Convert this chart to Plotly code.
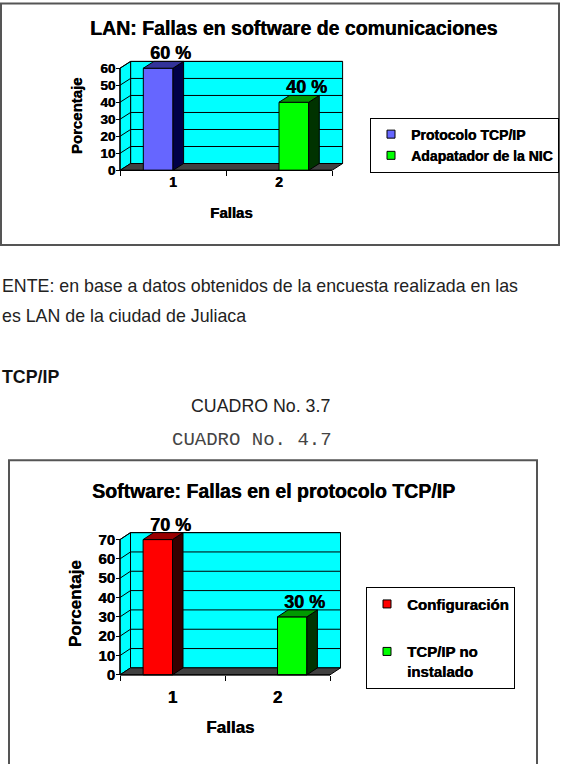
import plotly.graph_objects as go

# ---------------- data ----------------
top_title = "LAN: Fallas en software de comunicaciones"
top_categories = [1, 2]
top_series = ["Protocolo TCP/IP", "Adapatador de la NIC"]
top_values_s1 = [60, None]
top_values_s2 = [None, 40]
top_yticks = [0, 10, 20, 30, 40, 50, 60]

bot_title = "Software: Fallas en el protocolo TCP/IP"
bot_categories = [1, 2]
bot_series = ["Configuración", "TCP/IP no<br>instalado"]
bot_values_s1 = [70, None]
bot_values_s2 = [None, 30]
bot_yticks = [0, 10, 20, 30, 40, 50, 60, 70]

x_title = "Fallas"
y_title = "Porcentaje"

page_text_1 = "ENTE: en base a datos obtenidos de la encuesta realizada en las"
page_text_2 = "es LAN de la ciudad de Juliaca"
page_text_3 = "TCP/IP"
page_text_4 = "CUADRO No. 3.7"
page_text_5 = "CUADRO No. 4.7"

# ---------------- style / layout ----------------
W, H = 563, 764
F = "Liberation Sans, Arial, sans-serif"
HEAVY = "0.45px 0px 0px black"
CYAN = "#00FFFF"
FLOOR = "#404040"


def bfont(size, color="black"):
    return dict(family=F, size=size, color=color, weight="bold", shadow=HEAVY)


charts = [
    dict(xa="x", ya="y", legend="legend", categories=top_categories, series=top_series,
         values=[top_values_s1, top_values_s2], yticks=top_yticks, title=top_title,
         colors=[dict(front="#6666FF", top="#333399", side="#000046"),
                 dict(front="#00FF00", top="#009900", side="#003300")],
         x05=120, x25=332, y0=171, ytop_px=68.5, dx=0.1, dy=4.0, bw=0.28,
         tick_size=13.5, cat_size=14, atitle_size=15, label_size=18,
         xstand=18, ystand=13, catstand=2),
    dict(xa="x2", ya="y2", legend="legend2", categories=bot_categories, series=bot_series,
         values=[bot_values_s1, bot_values_s2], yticks=bot_yticks, title=bot_title,
         colors=[dict(front="#FF0000", top="#990000", side="#330000"),
                 dict(front="#00FF00", top="#009900", side="#003300")],
         x05=120, x25=330, y0=677.5, ytop_px=541.7, dx=0.1, dy=3.6, bw=0.28,
         tick_size=15, cat_size=17, atitle_size=17, label_size=18,
         xstand=15, ystand=11, catstand=10),
]

fig = go.Figure()
layout_axes = {}
annotations = []

for ch in charts:
    xa, ya = ch["xa"], ch["ya"]
    dx, dy, bw = ch["dx"], ch["dy"], ch["bw"]
    cats = ch["categories"]
    x0, x1 = cats[0] - 0.5, cats[-1] + 0.5
    ymax = ch["yticks"][-1]
    sx = (ch["x25"] - ch["x05"]) / (x1 - x0)
    sy = (ch["y0"] - ch["ytop_px"]) / ymax
    xr0, xr1 = x0 - 0.1, x1 + dx + 0.1
    yr0, yr1 = -3, ymax + dy + 3
    L = ch["x05"] - (x0 - xr0) * sx
    R = ch["x05"] + (xr1 - x0) * sx
    B = ch["y0"] + (0 - yr0) * sy
    T = ch["y0"] - (yr1 - 0) * sy

    # walls, floor, gridlines
    fig.add_shape(type="rect", xref=xa, yref=ya, x0=x0 + dx, x1=x1 + dx, y0=dy, y1=ymax + dy,
                  fillcolor=CYAN, line=dict(color="black", width=1), layer="below")
    fig.add_shape(type="path", xref=xa, yref=ya,
                  path=f"M{x0},0 L{x0+dx},{dy} L{x0+dx},{ymax+dy} L{x0},{ymax} Z",
                  fillcolor=CYAN, line=dict(color="black", width=1), layer="below")
    fig.add_shape(type="path", xref=xa, yref=ya,
                  path=f"M{x0},0 L{x1},0 L{x1+dx},{dy} L{x0+dx},{dy} Z",
                  fillcolor=FLOOR, line=dict(color="black", width=1), layer="below")
    for t in ch["yticks"][1:]:
        fig.add_shape(type="line", xref=xa, yref=ya, x0=x0 + dx, x1=x1 + dx, y0=t + dy, y1=t + dy,
                      line=dict(color="black", width=1), layer="below")
        fig.add_shape(type="line", xref=xa, yref=ya, x0=x0, x1=x0 + dx, y0=t, y1=t + dy,
                      line=dict(color="black", width=1), layer="below")
    # front axis lines
    fig.add_shape(type="line", xref=xa, yref=ya, x0=x0, x1=x0, y0=0, y1=ymax,
                  line=dict(color="black", width=1.3))
    fig.add_shape(type="line", xref=xa, yref=ya, x0=x0, x1=x1, y0=0, y1=0,
                  line=dict(color="black", width=1.3))

    # bars (front faces) + 3D faces
    for si, (name, vals, col) in enumerate(zip(ch["series"], ch["values"], ch["colors"])):
        off = -bw if si == 0 else 0.0
        grp = f"{xa}_{si}"
        fig.add_trace(go.Bar(x=cats, y=vals, width=bw, offset=off, xaxis=xa, yaxis=ya,
                             marker=dict(color=col["front"], line=dict(color="black", width=1)),
                             name=name, legendgroup=grp, showlegend=False, hoverinfo="skip"))
        for c, v in zip(cats, vals):
            if v is None:
                continue
            xl = c + off
            xr = xl + bw
            fig.add_trace(go.Scatter(x=[xr, xr + dx, xr + dx, xr, xr], y=[0, dy, v + dy, v, 0],
                                     fill="toself", fillcolor=col["side"], mode="lines",
                                     line=dict(color="black", width=1), xaxis=xa, yaxis=ya,
                                     legendgroup=grp, showlegend=False, hoverinfo="skip"))
            fig.add_trace(go.Scatter(x=[xl, xr, xr + dx, xl + dx, xl], y=[v, v, v + dy, v + dy, v],
                                     fill="toself", fillcolor=col["top"], mode="lines",
                                     line=dict(color="black", width=1), xaxis=xa, yaxis=ya,
                                     legendgroup=grp, showlegend=False, hoverinfo="skip"))
            annotations.append(dict(x=(xl + xr) / 2 + dx, y=v + dy, xref=xa, yref=ya,
                                    text=f"{v} %", showarrow=False, yanchor="middle", yshift=8,
                                    xshift=2, font=bfont(ch["label_size"])))
        # legend entry
        fig.add_trace(go.Scatter(x=[None], y=[None], mode="markers", name=name, legend=ch["legend"],
                                 legendgroup=grp, xaxis=xa, yaxis=ya,
                                 marker=dict(symbol="square", size=8, color=col["front"],
                                             line=dict(color="black", width=1))))

    xkey = "xaxis" + xa[1:]
    ykey = "yaxis" + ya[1:]
    layout_axes[xkey] = dict(
        domain=[L / W, R / W], range=[xr0, xr1], anchor="free", position=1 - ch["y0"] / H,
        showgrid=False, zeroline=False, showline=False,
        tickmode="array", tickvals=cats, ticktext=[str(c) for c in cats], ticks="",
        ticklabelstandoff=ch["catstand"],
        tickfont=bfont(ch["cat_size"]),
        minor=dict(tickmode="array", tickvals=[c - 0.5 for c in cats] + [x1], ticks="outside",
                   ticklen=5, tickcolor="black", tickwidth=1, showgrid=False),
        title=dict(text=x_title, standoff=ch["xstand"], font=bfont(ch["atitle_size"])),
        fixedrange=True,
    )
    layout_axes[ykey] = dict(
        domain=[1 - B / H, 1 - T / H], range=[yr0, yr1], anchor="free", position=ch["x05"] / W,
        showgrid=False, zeroline=False, showline=False,
        tickmode="array", tickvals=ch["yticks"], ticks="outside", ticklen=4, tickcolor="black",
        ticklabelstandoff=-2,
        tickfont=bfont(ch["tick_size"]),
        title=dict(text=y_title, standoff=ch["ystand"], font=bfont(ch["atitle_size"])),
        fixedrange=True,
    )

# chart titles
annotations.append(dict(x=294 / W, y=1 - 28 / H, xref="paper", yref="paper", text=top_title,
                        showarrow=False, xanchor="center", yanchor="middle", font=bfont(19.5)))
annotations.append(dict(x=273 / W, y=1 - 493 / H, xref="paper", yref="paper", text=bot_title,
                        showarrow=False, xanchor="center", yanchor="middle", font=bfont(19.5)))

# page text
body = dict(family=F, size=17.8, color="#222222")
annotations += [
    dict(x=0, y=1 - 287 / H, text=page_text_1, xanchor="left", font=body),
    dict(x=0, y=1 - 317 / H, text=page_text_2, xanchor="left", font=body),
    dict(x=0, y=1 - 378 / H, text=page_text_3, xanchor="left",
         font=dict(family=F, size=17.8, color="#111111", weight="bold")),
    dict(x=260 / W, y=1 - 408 / H, text=page_text_4, xanchor="center", font=body),
    dict(x=252 / W, y=1 - 442 / H, text=page_text_5, xanchor="center",
         font=dict(family="Liberation Mono, Courier New, monospace", size=19, color="#444444")),
]
for a in annotations[-5:]:
    a.update(xref="paper", yref="paper", showarrow=False, yanchor="middle")

# page frames around the charts
fig.add_shape(type="rect", xref="paper", yref="paper", x0=1 / W, x1=559 / W,
              y0=1 - 246 / H, y1=1 - 3.5 / H, line=dict(color="#555555", width=2),
              fillcolor="rgba(0,0,0,0)", layer="below")
fig.add_shape(type="rect", xref="paper", yref="paper", x0=9 / W, x1=537 / W,
              y0=-0.05, y1=1 - 462 / H, line=dict(color="#555555", width=2),
              fillcolor="rgba(0,0,0,0)", layer="below")

fig.update_layout(
    width=W, height=H, margin=dict(l=0, r=0, t=0, b=0, pad=0),
    paper_bgcolor="white", plot_bgcolor="rgba(0,0,0,0)",
    barmode="overlay", showlegend=True, hovermode=False,
    annotations=annotations,
    legend=dict(x=370 / W, y=1 - 118 / H, xanchor="left", yanchor="top", bgcolor="white",
                bordercolor="black", borderwidth=1, tracegroupgap=0, traceorder="normal",
                font=bfont(14)),
    legend2=dict(x=366 / W, y=1 - 589 / H, xanchor="left", yanchor="top", bgcolor="white",
                 bordercolor="black", borderwidth=1, tracegroupgap=25, traceorder="grouped",
                 valign="top", font=bfont(15)),
    **layout_axes,
)

fig.write_html("out.html")
